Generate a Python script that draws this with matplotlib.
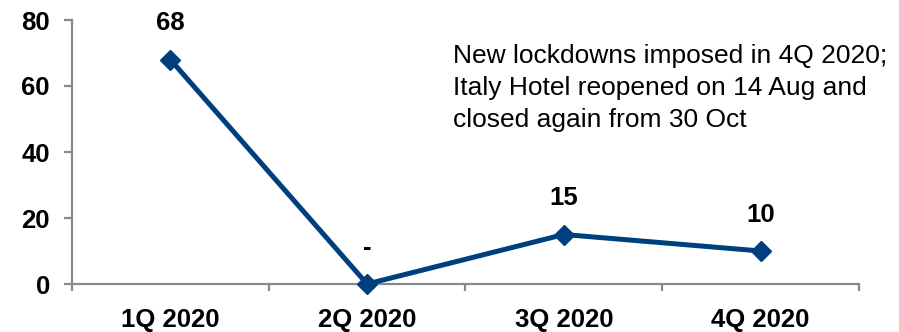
import numpy as np
import matplotlib.pyplot as plt

plt.rcParams['font.family'] = ['Liberation Sans', 'DejaVu Sans']

quarters = ['1Q 2020', '2Q 2020', '3Q 2020', '4Q 2020']
values = [68, 0, 15, 10]
point_labels = ['68', '-', '15', '10']
note = ('New lockdowns imposed in 4Q 2020;\n'
        'Italy Hotel reopened on 14 Aug and\n'
        'closed again from 30 Oct')

navy = '#003f7f'
grey = '#898989'

fig = plt.figure(figsize=(8.99, 3.32), dpi=100)
ax = fig.add_axes([72/899, 48/332, (859-72)/899, (284-20)/332])

x = np.arange(len(quarters))
ax.plot(x, values, color=navy, lw=3.6, marker='D', ms=10, zorder=3, clip_on=False)

# value labels above each point
for xi, v, lab in zip(x, values, point_labels):
    ax.annotate(lab, (xi, v), xytext=(0, 26), textcoords='offset points',
                ha='center', va='center', fontsize=18.5, fontweight='bold')

ax.text(0.484, 0.742, note, transform=ax.transAxes,
        fontsize=19, va='center', ha='left', linespacing=1.42)

ax.set_xlim(-0.5, len(quarters) - 0.5)
ax.set_ylim(0, 80)
ax.set_yticks([0, 20, 40, 60, 80])
ax.set_xticks(x)
ax.set_xticklabels(quarters)
ax.set_xticks(np.arange(len(quarters) + 1) - 0.5, minor=True)

for s in ['top', 'right']:
    ax.spines[s].set_visible(False)
for s in ['left', 'bottom']:
    ax.spines[s].set_color(grey)
    ax.spines[s].set_linewidth(1.6)

ax.tick_params(axis='y', colors=grey, labelcolor='black', length=6, width=1.6,
               labelsize=18.5, pad=10)
ax.tick_params(axis='x', which='major', length=0, labelsize=18.5, pad=17)
ax.tick_params(axis='x', which='minor', colors=grey, length=5, width=1.6)
for t in ax.get_xticklabels() + ax.get_yticklabels():
    t.set_fontweight('bold')

fig.savefig('out.png', dpi=100)
